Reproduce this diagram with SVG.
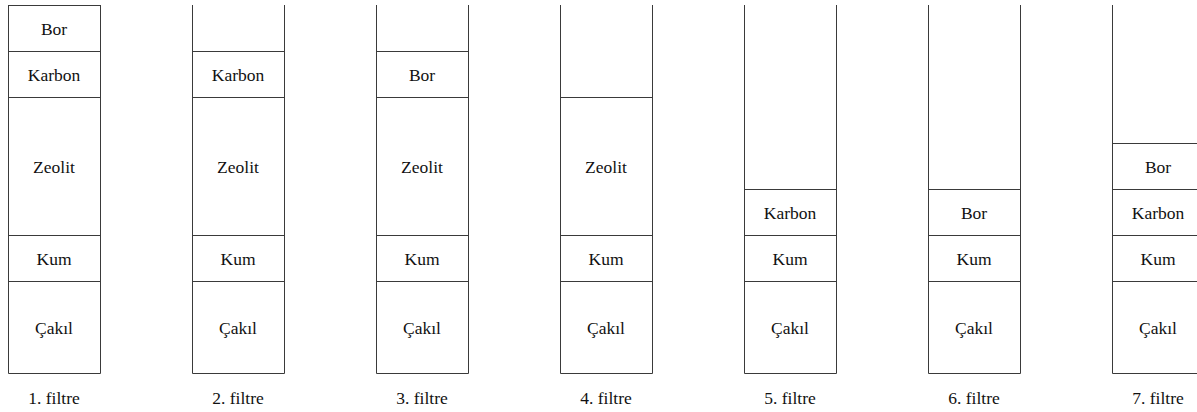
<svg xmlns="http://www.w3.org/2000/svg" width="1197" height="412" viewBox="0 0 1197 412">
  <style>
    .wall { stroke: #3a3a3a; stroke-width: 1; fill: none; }
    .layer { stroke: #3a3a3a; stroke-width: 1; }
    .lbl { font-family: "Liberation Serif", "Times New Roman", Tinos, "Noto Serif", "DejaVu Serif", Times, serif; font-size: 17.5px; fill: #111; text-anchor: middle; dominant-baseline: central; }
  </style>
  <rect width="1197" height="412" fill="#fff"/>

  <!-- filter 1 -->
  <g id="filtre1">
    <path class="wall" d="M8.5,5 V373.5 H100.5 V5"/>
    <line class="layer" x1="8" y1="5.5" x2="101" y2="5.5"/>
    <line class="layer" x1="8" y1="51.5" x2="101" y2="51.5"/>
    <line class="layer" x1="8" y1="97.5" x2="101" y2="97.5"/>
    <line class="layer" x1="8" y1="235.5" x2="101" y2="235.5"/>
    <line class="layer" x1="8" y1="281.5" x2="101" y2="281.5"/>
    <text class="lbl" x="54" y="29">Bor</text>
    <text class="lbl" x="54" y="75">Karbon</text>
    <text class="lbl" x="54" y="167">Zeolit</text>
    <text class="lbl" x="54" y="259">Kum</text>
    <text class="lbl" x="54" y="328">Çakıl</text>
    <text class="lbl" x="54" y="398">1. filtre</text>
  </g>

  <!-- filter 2 -->
  <g id="filtre2">
    <path class="wall" d="M192.5,5 V373.5 H284.5 V5"/>
    <line class="layer" x1="192" y1="51.5" x2="285" y2="51.5"/>
    <line class="layer" x1="192" y1="97.5" x2="285" y2="97.5"/>
    <line class="layer" x1="192" y1="235.5" x2="285" y2="235.5"/>
    <line class="layer" x1="192" y1="281.5" x2="285" y2="281.5"/>
    <text class="lbl" x="238" y="75">Karbon</text>
    <text class="lbl" x="238" y="167">Zeolit</text>
    <text class="lbl" x="238" y="259">Kum</text>
    <text class="lbl" x="238" y="328">Çakıl</text>
    <text class="lbl" x="238" y="398">2. filtre</text>
  </g>

  <!-- filter 3 -->
  <g id="filtre3">
    <path class="wall" d="M376.5,5 V373.5 H468.5 V5"/>
    <line class="layer" x1="376" y1="51.5" x2="469" y2="51.5"/>
    <line class="layer" x1="376" y1="97.5" x2="469" y2="97.5"/>
    <line class="layer" x1="376" y1="235.5" x2="469" y2="235.5"/>
    <line class="layer" x1="376" y1="281.5" x2="469" y2="281.5"/>
    <text class="lbl" x="422" y="75">Bor</text>
    <text class="lbl" x="422" y="167">Zeolit</text>
    <text class="lbl" x="422" y="259">Kum</text>
    <text class="lbl" x="422" y="328">Çakıl</text>
    <text class="lbl" x="422" y="398">3. filtre</text>
  </g>

  <!-- filter 4 -->
  <g id="filtre4">
    <path class="wall" d="M560.5,5 V373.5 H652.5 V5"/>
    <line class="layer" x1="560" y1="97.5" x2="653" y2="97.5"/>
    <line class="layer" x1="560" y1="235.5" x2="653" y2="235.5"/>
    <line class="layer" x1="560" y1="281.5" x2="653" y2="281.5"/>
    <text class="lbl" x="606" y="167">Zeolit</text>
    <text class="lbl" x="606" y="259">Kum</text>
    <text class="lbl" x="606" y="328">Çakıl</text>
    <text class="lbl" x="606" y="398">4. filtre</text>
  </g>

  <!-- filter 5 -->
  <g id="filtre5">
    <path class="wall" d="M744.5,5 V373.5 H836.5 V5"/>
    <line class="layer" x1="744" y1="189.5" x2="837" y2="189.5"/>
    <line class="layer" x1="744" y1="235.5" x2="837" y2="235.5"/>
    <line class="layer" x1="744" y1="281.5" x2="837" y2="281.5"/>
    <text class="lbl" x="790" y="213">Karbon</text>
    <text class="lbl" x="790" y="259">Kum</text>
    <text class="lbl" x="790" y="328">Çakıl</text>
    <text class="lbl" x="790" y="398">5. filtre</text>
  </g>

  <!-- filter 6 -->
  <g id="filtre6">
    <path class="wall" d="M928.5,5 V373.5 H1020.5 V5"/>
    <line class="layer" x1="928" y1="189.5" x2="1021" y2="189.5"/>
    <line class="layer" x1="928" y1="235.5" x2="1021" y2="235.5"/>
    <line class="layer" x1="928" y1="281.5" x2="1021" y2="281.5"/>
    <text class="lbl" x="974" y="213">Bor</text>
    <text class="lbl" x="974" y="259">Kum</text>
    <text class="lbl" x="974" y="328">Çakıl</text>
    <text class="lbl" x="974" y="398">6. filtre</text>
  </g>

  <!-- filter 7 -->
  <g id="filtre7">
    <path class="wall" d="M1112.5,5 V373.5 H1204.5 V5"/>
    <line class="layer" x1="1112" y1="143.5" x2="1205" y2="143.5"/>
    <line class="layer" x1="1112" y1="189.5" x2="1205" y2="189.5"/>
    <line class="layer" x1="1112" y1="235.5" x2="1205" y2="235.5"/>
    <line class="layer" x1="1112" y1="281.5" x2="1205" y2="281.5"/>
    <text class="lbl" x="1158" y="167">Bor</text>
    <text class="lbl" x="1158" y="213">Karbon</text>
    <text class="lbl" x="1158" y="259">Kum</text>
    <text class="lbl" x="1158" y="328">Çakıl</text>
    <text class="lbl" x="1158" y="398">7. filtre</text>
  </g>

  <g id="connectors"/>
</svg>
